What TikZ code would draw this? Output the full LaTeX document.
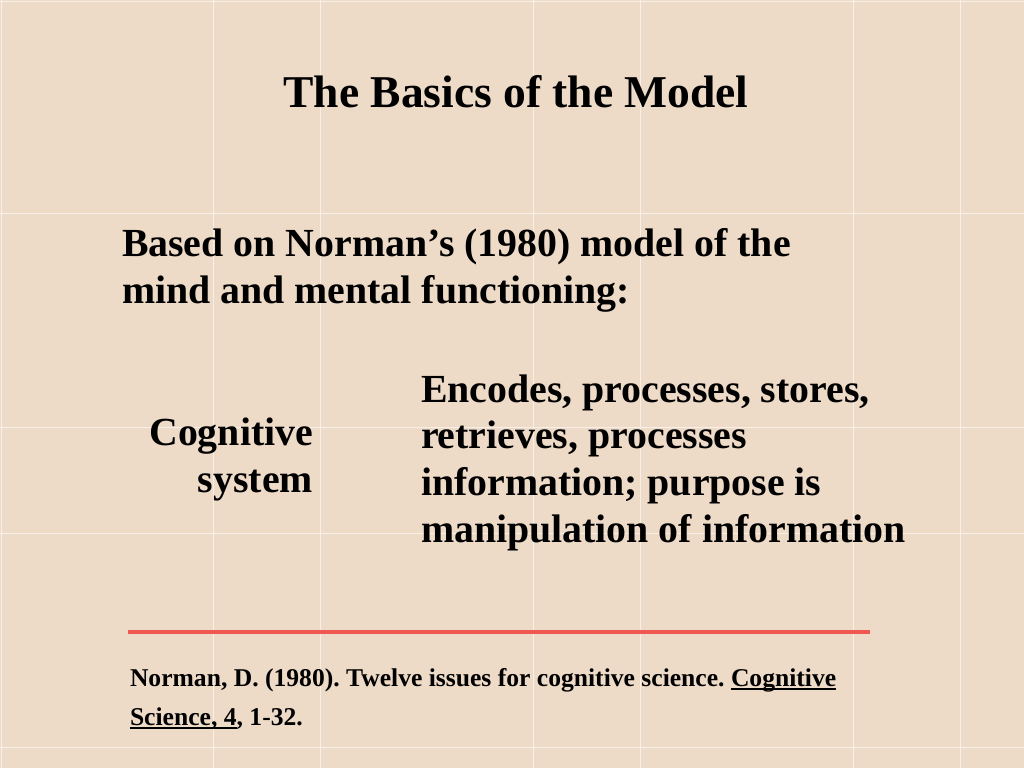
\documentclass[tikz,border=0pt]{standalone}
\usepackage{fontspec}
\setmainfont{Liberation Serif}
\frenchspacing
\definecolor{bgbeige}{RGB}{237,218,199}
\definecolor{gridwhite}{RGB}{248,240,232}
\definecolor{rulered}{RGB}{240,88,84}
\newcommand{\myul}[1]{\setbox0\hbox{#1}\rlap{\rule[-2.6pt]{\wd0}{1.1pt}}\box0}
\begin{document}
\begin{tikzpicture}[x=0.703125pt,y=-0.703125pt,
  txt/.style={inner sep=0pt, outer sep=0pt, text=black},
  titlefont/.style={font=\bfseries\fontsize{32}{38}\selectfont},
  bodyfont/.style={font=\bfseries\fontsize{28}{33}\selectfont},
  reffont/.style={font=\bfseries\fontsize{18}{22}\selectfont},
  gridline/.style={draw=gridwhite, line width=0.6pt},
  redrule/.style={draw=rulered, line width=3pt}]
\useasboundingbox (0,0) rectangle (1024,768);
\fill[bgbeige] (0,0) rectangle (1024,768);
\foreach \gx in {1,213,320,533,640,853,960} \draw[gridline] (\gx,0) -- (\gx,768);
\foreach \gy in {1,213,427,533,747} \draw[gridline] (0,\gy) -- (1024,\gy);

\node[txt, titlefont, anchor=base] (title) at (516,108) {The Basics of the Model};

\node[txt, bodyfont, anchor=base west] (intro1) at (122,257) {Based on Norman’s (1980) model of the};
\node[txt, bodyfont, anchor=base west] (intro2) at (122,303) {mind and mental functioning:};

\node[txt, bodyfont, anchor=base east] (cog1) at (313,445) {Cognitive};
\node[txt, bodyfont, anchor=base east] (cog2) at (313,492) {system};

\node[txt, bodyfont, anchor=base west] (desc1) at (421,402) {Encodes, processes, stores,};
\node[txt, bodyfont, anchor=base west] (desc2) at (421,448) {retrieves, processes};
\node[txt, bodyfont, anchor=base west] (desc3) at (421,495) {information; purpose is};
\node[txt, bodyfont, anchor=base west] (desc4) at (421,542) {manipulation of information};

\coordinate (ruleL) at (128,632);
\coordinate (ruleR) at (870,632);
\draw[redrule] (ruleL) -- (ruleR);

\node[txt, reffont, anchor=base west] (ref1) at (130,686) {Norman, D. (1980). Twelve issues for cognitive science. \myul{Cognitive}};
\node[txt, reffont, anchor=base west] (ref2) at (130,725) {\myul{Science, 4}, 1-32.};
\end{tikzpicture}
\end{document}
